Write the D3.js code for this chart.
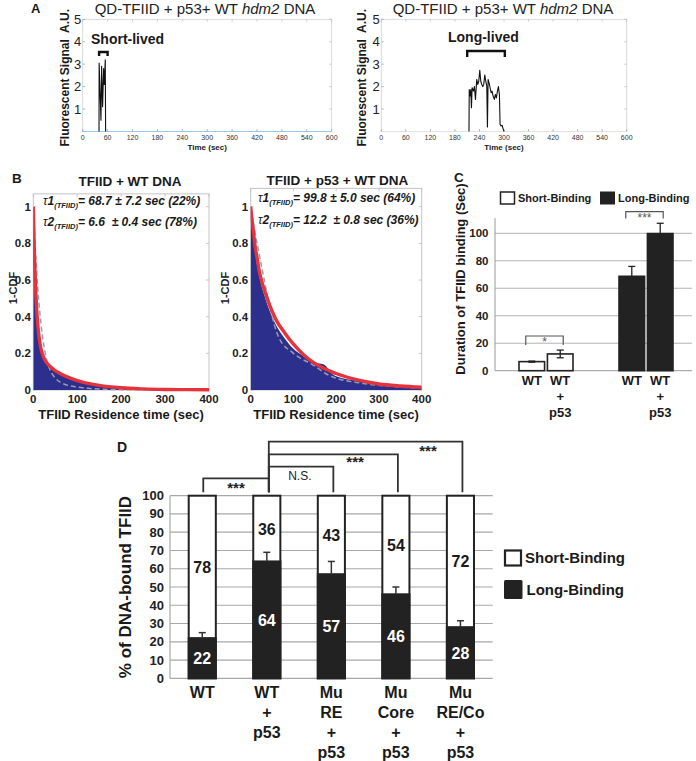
<!DOCTYPE html>
<html><head><meta charset="utf-8">
<script src="https://cdn.jsdelivr.net/npm/d3@7"></script>
<style>
body{margin:0;background:#fff}
svg{display:block}
text{font-family:"Liberation Sans",Arial,Helvetica,sans-serif}
</style>
</head><body>
<svg id="chart" width="696" height="761"></svg>
<script>
// ================= DATA =================
// Panel A: single-molecule traces
const aXTicks = [0,60,120,180,240,300,360,420,480,540,600];
const aYTicks = [1,2,3,4,5];
const shortTime = [39.3,39.6,44.0,45.6,48.0,50.4,52.0,54.4,55.2];
const shortSignal = [0,3.05,0.5,2.9,1.1,2.8,2.1,3.2,0];
const longTime = [214.4,215,217.2,218.8,220.4,222,225.3,227.7,230.2,233.4,235.9,238.3,240.8,243.2,245.6,248.1,250.5,253,255.4,257.9,259.5,261.1,263.5,266,268.4,270.8,273.3,276.5,279,281.4,283.9,286.3,288.8,290.4,292.8,295.3,297.7,300.2];
const longSignal = [0,1.87,1.58,1.87,1.06,1.95,1.8,2.0,1.43,2.32,2.1,2.24,2.73,2.24,2.1,2.0,2.1,2.52,2.24,2.02,0.2,2.32,2.17,1.95,1.73,1.8,1.58,1.43,1.65,1.5,1.8,2.0,1.65,0.32,0.25,0.28,0.13,0];
const shortBracket = [39.5,60];
const longBracket = [210,302];

// Panel B: 1-CDF of residence times
const bXTicks = [0,100,200,300,400];
const bYTicks = [0,0.2,0.4,0.6,0.8,1];
const bYTickLabels = ["0","0.2","0.4","0.6","0.8","1"];
const wtTime = [0,2,4,6,8,10,12,15,20,25,30,40,50,60,80,100,125,150,200,250,300,350,400];
const wtCdf = [0.99,0.76,0.6,0.49,0.41,0.345,0.3,0.245,0.19,0.162,0.143,0.118,0.1,0.086,0.064,0.047,0.033,0.022,0.011,0.005,0.003,0.001,0];
const wtFit = [1.0,0.79,0.633,0.516,0.428,0.362,0.311,0.257,0.202,0.17,0.15,0.125,0.106,0.092,0.069,0.051,0.036,0.025,0.012,0.006,0.003,0.002,0.001];
const wtSingle = [1.0,0.9,0.8,0.71,0.63,0.56,0.5,0.42,0.31,0.23,0.17,0.1,0.065,0.045,0.025,0.016,0.009,0.005,0.002,0.001,0,0,0];
const p53Time = [0,2,4,6,8,10,12,15,20,25,30,40,50,60,80,100,125,150,200,250,300,350,400];
const p53Fit = [1.0,0.95,0.91,0.87,0.83,0.79,0.76,0.72,0.65,0.6,0.56,0.49,0.43,0.38,0.31,0.25,0.19,0.145,0.09,0.055,0.033,0.022,0.015];
const p53CdfTime = [0,2,4,6,8,10,12,15,20,25,30,40,50,60,80,100,120,140,160,170,180,190,200,250,300,350,400];
const p53Cdf = [1.0,0.93,0.88,0.84,0.8,0.76,0.73,0.68,0.62,0.57,0.53,0.46,0.4,0.35,0.28,0.225,0.19,0.16,0.145,0.14,0.12,0.09,0.075,0.05,0.03,0.02,0.012];
const p53SingleTime = [0,5,10,20,30,45,65,100,146,185,263,341,400];
const p53Single = [1.0,0.93,0.86,0.74,0.62,0.45,0.29,0.2,0.136,0.078,0.036,0.018,0.01];
const bTitles = ["TFIID + WT DNA","TFIID + p53 + WT DNA"];
const bTau1 = ["= 68.7 \u00b1 7.2 sec (22%)","= 99.8 \u00b1 5.0 sec (64%)"];
const bTau2 = ["= 6.6  \u00b1 0.4 sec (78%)","= 12.2  \u00b1 0.8 sec (36%)"];

// Panel C: binding durations
const cGroups = ["Short-Binding","Long-Binding"];
const cConditions = ["WT","WT + p53"];
const cShort = [6.6,12.2];
const cShortErr = [0.4,2.8];
const cLong = [68.7,99.8];
const cLongErr = [7.2,7.5];
const cYTicks = [0,20,40,60,80,100];
const cSig = ["*","***"];

// Panel D: percent of DNA-bound TFIID
const dCategories = ["WT","WT + p53","Mu RE + p53","Mu Core + p53","Mu RE/Co + p53"];
const dCategoryLines = [["WT"],["WT","+","p53"],["Mu","RE","+","p53"],["Mu","Core","+","p53"],["Mu","RE/Co","+","p53"]];
const dLong = [22,64,57,46,28];
const dShort = [78,36,43,54,72];
const dLongErr = [3,5,7,4,3.5];
const dYTicks = [0,10,20,30,40,50,60,70,80,90,100];
const dSigPairs = [[0,1],[1,2],[1,3],[1,4]];
const dSigLabels = ["***","N.S.","***","***"];

// ================= DRAW =================
const svg = d3.select("#chart");
const INK = "#1a1a1a";

function addText(parent, x, y, str, o = {}) {
  const t = parent.append("text").attr("x", x).attr("y", y).text(str)
    .attr("font-size", o.size || 12)
    .attr("font-weight", o.weight || "normal")
    .attr("text-anchor", o.anchor || "start")
    .attr("fill", o.fill || INK);
  if (o.italic) t.attr("font-style", "italic");
  if (o.rotate) t.attr("transform", `rotate(${o.rotate},${x},${y})`);
  return t;
}
function line(parent, x1, y1, x2, y2, stroke, w) {
  return parent.append("line").attr("x1", x1).attr("y1", y1).attr("x2", x2).attr("y2", y2)
    .attr("stroke", stroke).attr("stroke-width", w);
}

// ---------- Panel A ----------
function tracePanel(cfg) {
  const g = svg.append("g");
  const x = d3.scaleLinear().domain([0, 600]).range(cfg.xRange);
  const y = d3.scaleLinear().domain([0, 5]).range([131.5, 19.3]);
  g.append("rect").attr("x", x(0)).attr("y", y(5)).attr("width", x(600) - x(0)).attr("height", y(0) - y(5))
    .attr("fill", "none").attr("stroke", "#d2d2d2").attr("stroke-width", 0.8);
  line(g, x(0), y(0), x(600), y(0), cfg.baseColor, 1);
  aXTicks.forEach(v => {
    line(g, x(v), y(0), x(v), y(0) - 2.5, "#999", 0.7);
    line(g, x(v), y(5), x(v), y(5) + 2.5, "#bbb", 0.7);
    addText(g, x(v), y(0) + 8.5, String(v), {size: 7, anchor: "middle", fill: "#333"});
  });
  aYTicks.forEach(v => {
    line(g, x(0), y(v), x(0) + 2.5, y(v), "#999", 0.7);
    line(g, x(600), y(v), x(600) - 2.5, y(v), "#bbb", 0.7);
    addText(g, x(0) - 1.5, y(v) + 4.5, String(v), {size: 13, anchor: "end", fill: "#222"});
  });
  g.append("path").datum(d3.zip(cfg.t, cfg.v))
    .attr("d", d3.line().x(d => x(d[0])).y(d => y(d[1])))
    .attr("fill", "none").attr("stroke", "#111").attr("stroke-width", 1.1).attr("stroke-linejoin", "round");
  const tt = g.append("text").attr("x", cfg.titleX).attr("y", 14).attr("text-anchor", "middle")
    .attr("font-size", 15).attr("fill", "#222");
  tt.append("tspan").text("QD-TFIID + p53+ WT ");
  tt.append("tspan").attr("font-style", "italic").text("hdm2");
  tt.append("tspan").text(" DNA");
  addText(g, cfg.yLabX, 146.5, "Fluorescent Signal  A.U.", {size: 12, weight: "bold", rotate: -90}).style("white-space", "pre");
  addText(g, x(300), 150, "Time (sec)", {size: 8, weight: "bold", anchor: "middle"});
  const bx0 = x(cfg.bracket[0]), bx1 = x(cfg.bracket[1]);
  g.append("path").attr("d", `M${bx0},${cfg.bY + cfg.bH}V${cfg.bY}H${bx1}V${cfg.bY + cfg.bH}`)
    .attr("fill", "none").attr("stroke", "#111").attr("stroke-width", 2.4);
  addText(g, cfg.labX, cfg.labY, cfg.label, {size: 14, weight: "bold"});
}
addText(svg, 31, 12.5, "A", {size: 13, weight: "bold"});
tracePanel({xRange: [82.7, 331.7], t: shortTime, v: shortSignal, baseColor: "#9cc8e6", titleX: 205,
  yLabX: 68.5, bracket: shortBracket, bY: 52, bH: 4, label: "Short-lived", labX: 91, labY: 44});
tracePanel({xRange: [381.3, 626.7], t: longTime, v: longSignal, baseColor: "#e2e2e2", titleX: 503,
  yLabX: 365.5, bracket: longBracket, bY: 51, bH: 6, label: "Long-lived", labX: 448, labY: 42});

// ---------- Panel B ----------
function cdfPanel(cfg, idx) {
  const g = svg.append("g");
  const x = d3.scaleLinear().domain([0, 400]).range(cfg.xRange);
  const y = d3.scaleLinear().domain([0, 1]).range([390, 206.7]);
  const clipId = "clipB" + idx;
  g.append("clipPath").attr("id", clipId).append("rect")
    .attr("x", x(0)).attr("y", y(cfg.yTop)).attr("width", x(400) - x(0)).attr("height", y(0) - y(cfg.yTop) + 3);
  g.append("rect").attr("x", x(0)).attr("y", y(cfg.yTop)).attr("width", x(400) - x(0)).attr("height", y(0) - y(cfg.yTop))
    .attr("fill", "none").attr("stroke", "#c4c4c4").attr("stroke-width", 1);
  bYTicks.forEach((v, i) => {
    line(g, x(400), y(v), x(400) - 3, y(v), "#bbb", 0.8);
    line(g, x(0), y(v), x(0) + 3, y(v), "#bbb", 0.8);
    addText(g, x(0) - 2.5, y(v) + 4, bYTickLabels[i], {size: 11.5, weight: "bold", anchor: "end", fill: "#222"});
  });
  bXTicks.forEach(v => {
    line(g, x(v), y(cfg.yTop), x(v), y(cfg.yTop) + 3, "#bbb", 0.8);
    addText(g, x(v), 403, String(v), {size: 11.5, weight: "bold", anchor: "middle", fill: "#222"});
  });
  const pg = g.append("g").attr("clip-path", `url(#${clipId})`);
  pg.append("path").datum(d3.zip(cfg.cdfT, cfg.cdf))
    .attr("d", d3.area().x(d => x(d[0])).y0(y(0)).y1(d => y(d[1])).curve(d3.curveMonotoneX))
    .attr("fill", "#2c2f8c");
  pg.append("path").datum(d3.zip(cfg.sT, cfg.s))
    .attr("d", d3.line().x(d => x(d[0])).y(d => y(d[1])).curve(d3.curveMonotoneX))
    .attr("fill", "none").attr("stroke", "#9b9bab").attr("stroke-width", 1.5).attr("stroke-dasharray", "5,3");
  pg.append("path").datum(d3.zip(cfg.fT, cfg.f))
    .attr("d", d3.line().x(d => x(d[0])).y(d => y(d[1])).curve(d3.curveMonotoneX))
    .attr("fill", "none").attr("stroke", "#e5323b").attr("stroke-width", 3.4);
  addText(g, cfg.titleX, cfg.titleY, bTitles[idx], {size: 13.5, weight: "bold", anchor: "middle"});
  [[bTau1[idx], "1", cfg.tauY[0]], [bTau2[idx], "2", cfg.tauY[1]]].forEach(([s, n, ty]) => {
    const t = g.append("text").attr("x", cfg.tauX).attr("y", ty).attr("font-size", 12)
      .attr("font-weight", "bold").attr("font-style", "italic").attr("fill", INK).style("white-space", "pre");
    t.append("tspan").attr("font-weight", "normal").text("\u03c4");
    t.append("tspan").text(n);
    t.append("tspan").attr("font-size", 7.5).attr("dy", 3).text("(TFIID)");
    t.append("tspan").attr("dy", -3).text(s);
  });
  addText(g, cfg.cdfLabX, 288, "1-CDF", {size: 11, weight: "bold", anchor: "middle", rotate: -90});
  addText(g, cfg.xLabX, 419, "TFIID Residence time (sec)", {size: 13, weight: "bold", anchor: "middle"});
}
addText(svg, 12, 183, "B", {size: 13.5, weight: "bold"});
cdfPanel({xRange: [33.3, 209], yTop: 1.07, cdfT: wtTime, cdf: wtCdf, fT: wtTime, f: wtFit, sT: wtTime, s: wtSingle,
  titleX: 130, titleY: 186, tauX: 43, tauY: [205, 226], cdfLabX: 16.5, xLabX: 121}, 0);
cdfPanel({xRange: [250.7, 421.7], yTop: 1.10, cdfT: p53CdfTime, cdf: p53Cdf, fT: p53Time, f: p53Fit, sT: p53SingleTime, s: p53Single,
  titleX: 337.5, titleY: 185, tauX: 258, tauY: [202, 224], cdfLabX: 229, xLabX: 336}, 1);

// ---------- Panel C ----------
(function () {
  const g = svg.append("g");
  const y = d3.scaleLinear().domain([0, 100]).range([370.7, 233.3]);
  const xg = d3.scaleBand().domain(cGroups).range([496, 696]).paddingInner(0.46).paddingOuter(0.23);
  const xc = d3.scaleBand().domain(cConditions).range([0, xg.bandwidth()]).paddingInner(0.1);
  cYTicks.forEach(v => {
    line(g, 495, y(v), 692, y(v), v === 0 ? "#999" : "#b3b3b3", 1);
    addText(g, 488.5, y(v) + 4, String(v), {size: 11.5, weight: "bold", anchor: "end", fill: "#222"});
  });
  line(g, 495, y(0), 495, y(111), "#999", 1);
  const series = [[cShort, cShortErr, "#fff"], [cLong, cLongErr, "#222"]];
  cGroups.forEach((grp, gi) => {
    const [vals, errs, fill] = series[gi];
    cConditions.forEach((c, ci) => {
      const bx = xg(grp) + xc(c), bw = xc.bandwidth(), cx = bx + bw / 2;
      g.append("rect").attr("x", bx).attr("y", y(vals[ci])).attr("width", bw).attr("height", y(0) - y(vals[ci]))
        .attr("fill", fill).attr("stroke", "#222").attr("stroke-width", 1.6);
      const e0 = y(vals[ci] - errs[ci]), e1 = y(vals[ci] + errs[ci]);
      line(g, cx, e0, cx, e1, "#222", 1.3);
      line(g, cx - 3.5, e1, cx + 3.5, e1, "#222", 1.3);
      line(g, cx - 3.5, e0, cx + 3.5, e0, "#222", 1.3);
      addText(g, cx, 384.5, "WT", {size: 13, weight: "bold", anchor: "middle"});
      if (ci === 1) {
        addText(g, cx, 401, "+", {size: 13, weight: "bold", anchor: "middle"});
        addText(g, cx, 416.5, "p53", {size: 13, weight: "bold", anchor: "middle"});
      }
    });
    const xa = xg(grp) + xc(cConditions[0]) + xc.bandwidth() / 2 - 6;
    const xb = xg(grp) + xc(cConditions[1]) + xc.bandwidth() / 2 + 3;
    const top = gi === 0 ? 336 : 211.7, bot = gi === 0 ? 345 : 218.5;
    g.append("path").attr("d", `M${xa},${bot}V${top}H${xb}V${bot}`).attr("fill", "none")
      .attr("stroke", "#555").attr("stroke-width", 1.2);
    addText(g, (xa + xb) / 2, top + 10, cSig[gi], {size: 12, anchor: "middle", fill: "#555"});
  });
  g.append("rect").attr("x", 500.5).attr("y", 192).attr("width", 14).attr("height", 12)
    .attr("fill", "#fff").attr("stroke", "#222").attr("stroke-width", 1.5);
  addText(g, 518, 202, cGroups[0], {size: 11, weight: "bold"});
  g.append("rect").attr("x", 600).attr("y", 191.5).attr("width", 15).attr("height", 13).attr("fill", "#222");
  addText(g, 618, 202, cGroups[1], {size: 11, weight: "bold"});
  addText(g, 465, 279, "Duration of TFIID binding (Sec)", {size: 13, weight: "bold", anchor: "middle", rotate: -90});
  addText(g, 454, 182, "C", {size: 13.5, weight: "bold"});
})();

// ---------- Panel D ----------
(function () {
  const g = svg.append("g");
  const y = d3.scaleLinear().domain([0, 100]).range([678.3, 495.7]);
  const x = d3.scaleBand().domain(dCategories).range([170, 492.7]).paddingInner(0.58).paddingOuter(0.29);
  dYTicks.forEach(v => {
    line(g, 170, y(v), 492.7, y(v), "#a8a8a8", 1.2);
    addText(g, 164, y(v) + 4.5, String(v), {size: 13, weight: "bold", anchor: "end", fill: "#222"});
  });
  line(g, 170, y(0), 170, y(100), "#a8a8a8", 1.2);
  dCategories.forEach((c, i) => {
    const bx = x(c), bw = x.bandwidth(), cx = bx + bw / 2;
    g.append("rect").attr("x", bx).attr("y", y(100)).attr("width", bw).attr("height", y(0) - y(100))
      .attr("fill", "#fff").attr("stroke", "#222").attr("stroke-width", 2);
    g.append("rect").attr("x", bx).attr("y", y(dLong[i])).attr("width", bw).attr("height", y(0) - y(dLong[i]))
      .attr("fill", "#222").attr("stroke", "#222").attr("stroke-width", 2);
    const et = y(dLong[i] + dLongErr[i]);
    line(g, cx, y(dLong[i]), cx, et, "#333", 1.5);
    line(g, cx - 3.5, et, cx + 3.5, et, "#333", 1.5);
    addText(g, cx, y(dLong[i] / 2) + 6, String(dLong[i]), {size: 16, weight: "bold", anchor: "middle", fill: "#fff"});
    addText(g, cx, y(dLong[i] + dShort[i] / 2) + 6, String(dShort[i]), {size: 16, weight: "bold", anchor: "middle"});
    dCategoryLines[i].forEach((s, k) => {
      addText(g, cx, 697.5 + k * 20, s, {size: 16, weight: "bold", anchor: "middle"});
    });
  });
  const levels = [478.3, 466.7, 454.3, 441.7];
  const center = i => x(dCategories[i]) + x.bandwidth() / 2 + 2;
  dSigPairs.forEach(([a, b], k) => {
    const xa = center(a) + (k === 0 ? -1 : 0), xb = center(b), lv = levels[k];
    g.append("path").attr("d", `M${xa},492.3V${lv}H${xb}V492.3`).attr("fill", "none")
      .attr("stroke", "#333").attr("stroke-width", 1.8);
    const isNS = dSigLabels[k] === "N.S.";
    let tx, ty;
    if (k === 0) { tx = (xa + xb) / 2; ty = 492.5; }
    else if (isNS) { tx = xa + 31; ty = 479.5; }
    else { tx = xb + (k === 2 ? -42.8 : -34.4); ty = k === 2 ? 467 : 455.5; }
    addText(g, tx, ty, dSigLabels[k], {size: isNS ? 12 : 15, anchor: "middle", fill: "#222",
      weight: isNS ? "normal" : "bold"});
  });
  g.append("rect").attr("x", 505).attr("y", 550.5).attr("width", 16).attr("height", 15)
    .attr("fill", "#fff").attr("stroke", "#222").attr("stroke-width", 2.2);
  addText(g, 525, 563, "Short-Binding", {size: 15, weight: "bold"});
  g.append("rect").attr("x", 504).attr("y", 580).attr("width", 18.5).attr("height", 19).attr("rx", 1.5).attr("fill", "#222");
  addText(g, 526.5, 595, "Long-Binding", {size: 15, weight: "bold"});
  addText(g, 131, 587, "% of DNA-bound TFIID", {size: 17, weight: "bold", anchor: "middle", rotate: -90});
  addText(g, 117, 452, "D", {size: 14, weight: "bold"});
})();
</script>
</body></html>
